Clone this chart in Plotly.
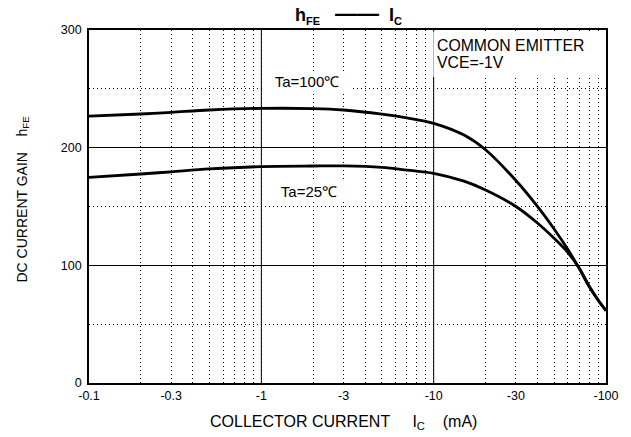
import numpy as np
import plotly.graph_objects as go

# ---------------- data ----------------
ic_ma = [-0.1, -0.2, -0.3, -0.5, -1, -2, -3, -5, -7, -10, -15,
         -20, -30, -40, -50, -60, -70, -80, -90, -100]
hfe_ta100 = [226.8, 228.6, 230.0, 232.0, 233.4, 233.2, 232.0, 228.5, 225.3, 220.7, 210.7,
             198.2, 172.1, 150.1, 130.9, 113.6, 97.2, 81.7, 70.3, 61.6]
hfe_ta25 = [174.7, 177.6, 179.5, 181.9, 183.9, 184.4, 184.5, 183.3, 181.0, 178.2, 171.5,
            164.0, 150.0, 136.0, 123.0, 111.0, 97.5, 82.2, 70.6, 61.6]

x_tickvals = [0.1, 0.3, 1, 3, 10, 30, 100]
x_ticktext = ["-0.1", "-0.3", "-1", "-3", "-10", "-30", "-100"]
x_minor = [0.2, 0.4, 0.5, 0.6, 0.7, 0.8, 0.9,
           2, 4, 5, 6, 7, 8, 9,
           20, 40, 50, 60, 70, 80, 90]
x_solid = [1, 10]
y_tickvals = [0, 100, 200, 300]
y_minor = [50, 150, 250]
y_range = [0, 300]

FONT = "Liberation Sans, Arial, sans-serif"
DOT = "1px,3px"

x_abs = np.abs(np.array(ic_ma))

fig = go.Figure()

# solid decade gridlines
for v in x_solid:
    fig.add_trace(go.Scatter(x=[v, v], y=y_range, mode="lines",
                             line=dict(color="black", width=1),
                             hoverinfo="skip", showlegend=False))

fig.add_trace(go.Scatter(x=x_abs, y=hfe_ta100, mode="lines", line_shape="spline",
                         line=dict(color="black", width=2.8), showlegend=False))
fig.add_trace(go.Scatter(x=x_abs, y=hfe_ta25, mode="lines", line_shape="spline",
                         line=dict(color="black", width=2.8), showlegend=False))

fig.update_layout(
    width=631, height=437,
    margin=dict(l=89, r=25, t=30, b=54),
    paper_bgcolor="white", plot_bgcolor="white",
    font=dict(family=FONT, color="black", size=12.5),
    xaxis=dict(
        type="log", range=[np.log10(0.1), np.log10(100)],
        tickvals=x_tickvals, ticktext=x_ticktext, ticks="",
        showgrid=True, gridcolor="black", gridwidth=1, griddash=DOT,
        minor=dict(tickvals=x_minor, showgrid=True, gridcolor="black",
                   gridwidth=1, griddash=DOT, ticks=""),
        showline=True, mirror=True, linecolor="black", linewidth=1.7,
        zeroline=False, tickfont=dict(size=12.5), ticklabelstandoff=0,
    ),
    yaxis=dict(
        range=y_range, tickvals=y_tickvals, ticks="",
        showgrid=True, gridcolor="black", gridwidth=1,
        minor=dict(tickvals=y_minor, showgrid=True, gridcolor="black",
                   gridwidth=1, griddash=DOT, ticks=""),
        showline=True, mirror=True, linecolor="black", linewidth=1.7,
        zeroline=False, tickfont=dict(size=12.5), ticklabelstandoff=3,
    ),
)

# white box behind condition text
fig.add_shape(type="rect", xref="paper", yref="paper",
              x0=0.666, x1=0.997, y0=0.867, y1=0.996,
              fillcolor="white", line=dict(width=0), layer="above")

annotations = [
    # title
    dict(text="<b>h<sub><span style='font-size:11px'>FE</span></sub>&nbsp;&nbsp;&nbsp;"
              "<span style='font-size:22px'>——</span>&nbsp;&nbsp;"
              "I<sub><span style='font-size:11px'>C</span></sub></b>",
         xref="paper", yref="paper", x=0.5, y=1, xshift=1, yshift=16,
         xanchor="center", yanchor="middle", showarrow=False,
         font=dict(size=18, family=FONT)),
    # conditions
    dict(text="COMMON EMITTER", xref="x", yref="paper", x=1, y=1,
         xshift=1, yshift=-15, xanchor="left", yanchor="middle",
         showarrow=False, font=dict(size=15.8, family=FONT)),
    dict(text="VCE=-1V", xref="x", yref="paper", x=1, y=1,
         xshift=1, yshift=-32.5, xanchor="left", yanchor="middle",
         showarrow=False, font=dict(size=15.8, family=FONT)),
    # curve labels
    dict(text="Ta=100℃", xref="x", yref="y", x=np.log10(1.85), y=256.6,
         showarrow=False, bgcolor="white", width=86, borderpad=1,
         font=dict(size=15, family=FONT)),
    dict(text="Ta=25℃", xref="x", yref="y", x=np.log10(1.9), y=162.6,
         showarrow=False, bgcolor="white", width=70, borderpad=1,
         font=dict(size=15, family=FONT)),
    # axis titles
    dict(text="COLLECTOR CURRENT&nbsp;&nbsp;&nbsp;&nbsp;&nbsp;I<sub>C</sub>&nbsp;&nbsp;&nbsp;&nbsp;(mA)",
         xref="paper", yref="paper", x=0.5, y=0, xshift=-4, yshift=-39,
         xanchor="center", yanchor="middle", showarrow=False,
         font=dict(size=16, family=FONT)),
    dict(text="DC CURRENT GAIN&nbsp;&nbsp;&nbsp;&nbsp;h<sub>FE</sub>",
         xref="paper", yref="paper", x=0, y=0.5, xshift=-67, yshift=7,
         textangle=-90, xanchor="center", yanchor="middle", showarrow=False,
         font=dict(size=14, family=FONT)),
]
fig.update_layout(annotations=annotations)

fig.write_html("out.html")
